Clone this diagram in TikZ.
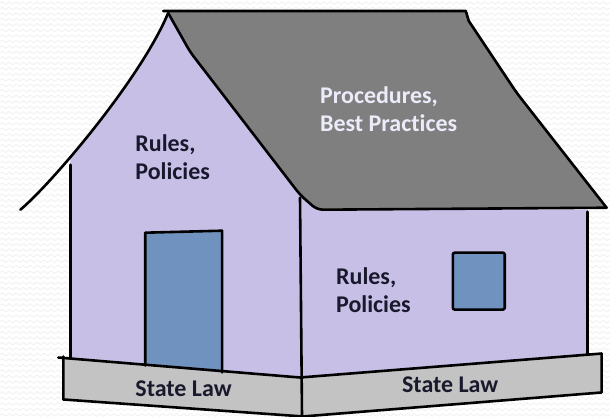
\documentclass[tikz,border=0pt]{standalone}
\usepackage{fontspec}
\setmainfont{Carlito}[Ligatures={NoCommon}]
\usetikzlibrary{decorations.pathmorphing}

\definecolor{wall}{RGB}{200,191,231}
\definecolor{roof}{RGB}{127,127,127}
\definecolor{base}{RGB}{195,195,195}
\definecolor{glass}{RGB}{112,146,190}
\definecolor{ink}{RGB}{25,25,45}
\definecolor{roofink}{RGB}{235,235,250}

\begin{document}
\begin{tikzpicture}[x=1pt, y=-1pt, line join=round, line cap=round,
    edge line/.style={draw=black, line width=2.6pt},
    label text/.style={font=\fontsize{24}{28}\selectfont\bfseries, text=ink, align=left, inner sep=0pt, anchor=base west},
    bg zig/.style={draw=black!6, line width=0.8pt, decorate, decoration={zigzag, segment length=7pt, amplitude=1.3pt}}]
    \tikzstyle{every node}=[font=\small]

    % background
    \fill[white] (0,0) rectangle (610,417);
    \foreach \y in {3,8.5,...,417}
        \draw[bg zig] (0,\y) -- (610,\y);
    \useasboundingbox (0,0) rectangle (610,417);

    % walls
    \begin{scope}
        \clip (70,0) rectangle (610,417);
        \fill[wall] (20,210) .. controls (50,185) and (140,80) .. (168,13)
            [rounded corners=6pt] -- (190,52) -- (300,195) [sharp corners] -- (317,210)
            -- (588,210) -- (588,355) -- (300,378) -- (70,360) -- cycle;
    \end{scope}

    % roof
    \fill[roof] (168,11) -- (466,11) -- (469,21) [rounded corners=6pt] -- (517,93)
        [sharp corners] -- (607,208) -- (317,210) [rounded corners=6pt] -- (300,195)
        -- (190,52) [sharp corners] -- (168,13) -- cycle;

    % foundation
    \fill[base] (63,357) -- (300,378) -- (303,417) -- (63,400) -- cycle;
    \fill[base] (300,378) -- (602,354) -- (602,393) -- (303,417) -- cycle;

    % door and window
    \filldraw[fill=glass, edge line] (145,366) -- (145,233) -- (222,231) -- (222,373);
    \filldraw[fill=glass, edge line, rounded corners=2pt] (453,253) rectangle (505,310);

    % outlines
    \draw[edge line] (20,210) .. controls (50,185) and (140,80) .. (168,13);
    \draw[edge line, rounded corners=6pt] (168,13) -- (190,52) -- (300,195) -- (317,210) -- (607,208);
    \draw[edge line] (163,11) -- (466,11) -- (469,21) [rounded corners=6pt] -- (517,93) -- (607,208);
    \draw[edge line] (70,165) -- (70,358);
    \draw[edge line] (300,198) -- (302,417);
    \draw[edge line] (588,212) -- (588,355);
    \draw[edge line] (58,358) -- (300,378) -- (602,354);
    \draw[edge line] (63,357) -- (63,400) -- (303,417) -- (602,393) -- (602,354);

    % labels
    \node[label text] (frontrules) at (135,180) {Rules,\\Policies};
    \node[label text, text=roofink] (roofproc) at (320,132) {Procedures,\\Best Practices};
    \node[label text] (siderules) at (336,313) {Rules,\\Policies};
    \node[label text] (lawleft) at (135,397) {State Law};
    \node[label text] (lawright) at (402,393) {State Law};

\end{tikzpicture}
\end{document}
